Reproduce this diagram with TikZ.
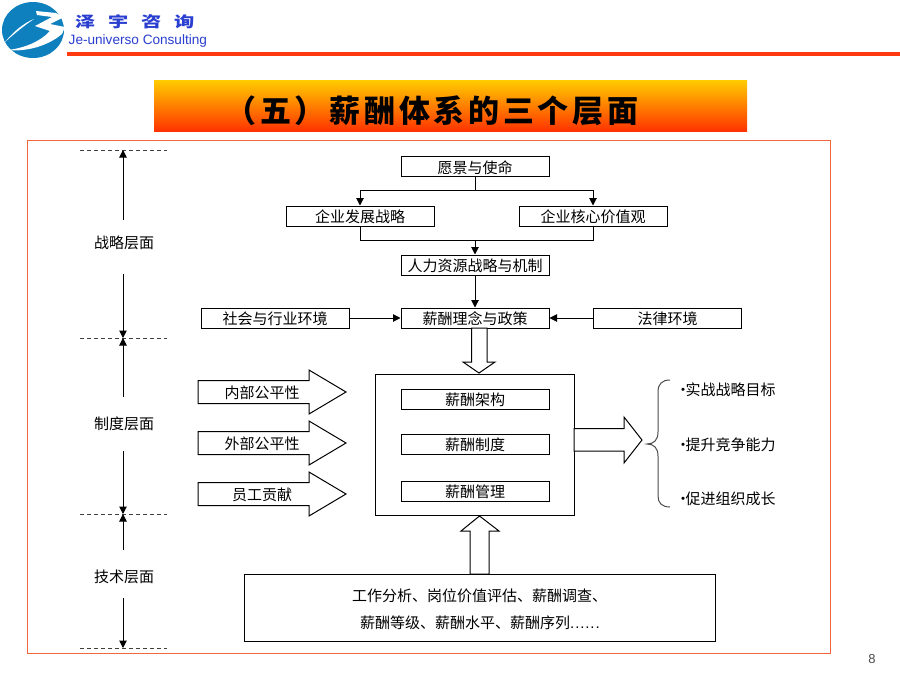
\documentclass[tikz,border=0pt]{standalone}
\usepackage{fontspec}
\setmainfont{Noto Sans CJK SC}
\newfontfamily\titlefont[LetterSpace=12]{Noto Sans CJK SC}
\newfontfamily\brandfont[LetterSpace=85,FakeStretch=1.35]{Noto Sans CJK SC}
\newfontfamily\latinfont{Liberation Sans}
\newfontfamily\dotsfont[LetterSpace=6]{Liberation Sans}
\usetikzlibrary{arrows.meta}
\definecolor{frameRed}{HTML}{F2663F}
\definecolor{lineRed}{HTML}{FF3A10}
\definecolor{brandBlue}{HTML}{2A3FD0}
\definecolor{logoBlue}{HTML}{0F80BE}
\definecolor{gradTop}{HTML}{FFCC00}
\definecolor{gradMid}{HTML}{FF8000}
\definecolor{gradBot}{HTML}{FF3300}
\tikzset{
  x=1pt,y=-1pt,
  lbl/.style={font=\fontsize{15}{15}\selectfont,inner sep=0pt,text=black,text height=13.4pt,text depth=0pt},
  flowbox/.style={draw=black,line width=1pt,minimum width=148pt,minimum height=20pt,inner sep=0pt,font=\fontsize{15}{15}\selectfont,text height=13.4pt,text depth=0pt},
  conn/.style={draw=black,line width=1pt,-{Triangle[length=7.5pt,width=7.5pt]}},
  plainconn/.style={draw=black,line width=1pt},
  level/.style={dash pattern=on 4pt off 3pt,draw=black!75,line width=0.8pt},
  blockshape/.style={draw=black,line width=1pt,fill=white,line join=miter},
}
\newcommand{\rightblock}[5]{% x0, xbase, xtip, ycenter, label
  \path[blockshape] (#1,#4-11.5) -- (#2,#4-11.5) -- (#2,#4-22) -- (#3,#4) -- (#2,#4+22) -- (#2,#4+11.5) -- (#1,#4+11.5) -- cycle;
  \node[lbl] at ({(#1+#2)/2+8.5},#4) {#5};
}
\begin{document}
\begin{tikzpicture}
\useasboundingbox (0,0) rectangle (900,675);
\fill[white] (0,0) rectangle (900,675);

% logo
\fill[logoBlue] (33,30) ellipse [x radius=31,y radius=28];
\fill[white] (5,42) .. controls (14,31) and (24,23) .. (34,19) .. controls (25,25) and (15,33) .. (5,42) -- cycle;
\fill[white] (36,11) -- (56,13) -- (64,17) -- (50,24) -- (65,27) -- (62,34) .. controls (48,46) and (26,52) .. (8,50) .. controls (24,48) and (40,42) .. (50,31) -- (35,26) -- (52,17) -- (37,15) -- cycle;
\node[inner sep=0pt,anchor=west,font=\brandfont\bfseries\fontsize{15}{15}\selectfont,text=brandBlue] (brand) at (75,22) {泽宇咨询};
\node[inner sep=0pt,anchor=west,font=\latinfont\fontsize{13.6}{13.6}\selectfont,text=brandBlue] (brandlatin) at (68.5,41) {Je-universo Consulting};
\fill[lineRed] (67,52) rectangle (900,56);

% title
\shade[top color=gradTop,bottom color=gradBot,middle color=gradMid] (154,80) rectangle (747,131);
\node[inner sep=0pt,font=\titlefont\bfseries\fontsize{31}{31}\selectfont] (title) at (432,111) {（五）薪酬体系的三个层面};

% frame
\draw[frameRed,line width=1pt] (27,140) rectangle (830,653);

% levels
\foreach \yy in {150,338,514,648} \draw[level] (80,\yy) -- (167,\yy);
\node[lbl] (l1) at (124,242) {战略层面};
\node[lbl] (l2) at (124,423) {制度层面};
\node[lbl] (l3) at (124,576) {技术层面};
\coordinate (a1) at (123,150); \coordinate (a2) at (123,338);
\coordinate (a3) at (123,338); \coordinate (a4) at (123,514);
\coordinate (a5) at (123,514); \coordinate (a6) at (123,648);
\draw[conn] (123,220) -- (a1);
\draw[conn] (123,274) -- (a2);
\draw[conn] (123,397) -- (a3);
\draw[conn] (123,451) -- (a4);
\draw[conn] (123,550) -- (a5);
\draw[conn] (123,598) -- (a6);

% top flow
\node[flowbox] (vision) at (475,166.5) {愿景与使命};
\node[flowbox] (dev) at (360,216) {企业发展战略};
\node[flowbox] (core) at (593,216) {企业核心价值观};
\node[flowbox] (hr) at (475,265) {人力资源战略与机制};
\node[flowbox] (idea) at (475,318) {薪酬理念与政策};
\node[flowbox] (soc) at (275,318) {社会与行业环境};
\node[flowbox] (law) at (667.5,318) {法律环境};
\coordinate (j1) at (475,190);
\coordinate (j2) at (475,240);
\draw[plainconn] (vision.south) -- (j1);
\draw[conn] (j1) -| (dev.north);
\draw[conn] (j1) -| (core.north);
\draw[plainconn] (dev.south) |- (j2);
\draw[plainconn] (core.south) |- (j2);
\draw[conn] (j2) -- (hr.north);
\draw[conn] (hr.south) -- (idea.north);
\draw[conn] (soc.east) -- (idea.west);
\draw[conn] (law.west) -- (idea.east);

% centre box
\node[draw=black,line width=1pt,minimum width=198.5pt,minimum height=141pt,inner sep=0pt] (centre) at (474.75,444.5) {};
\node[flowbox] (s1) at (475,399) {薪酬架构};
\node[flowbox] (s2) at (475,444) {薪酬制度};
\node[flowbox] (s3) at (475,491) {薪酬管理};

% hollow arrows
\path[blockshape] (471.7,328) -- (487,328) -- (487,362) -- (495,362) -- (479,373) -- (463,362) -- (471.7,362) -- cycle;
\path[blockshape] (470,574) -- (489,574) -- (489,531) -- (499,531) -- (479.5,516) -- (461,531) -- (470,531) -- cycle;
\path[blockshape] (574,428.5) -- (624,428.5) -- (624,417) -- (642,440) -- (624,463) -- (624,451) -- (574,451) -- cycle;

\rightblock{198}{309}{346}{392}{内部公平性}
\rightblock{198}{309}{346}{443}{外部公平性}
\rightblock{198}{309}{346}{494}{员工贡献}

% brace
\draw[black!70,line width=1pt] (670,380) .. controls (662,380) and (658,384) .. (658,392) -- (658,432) .. controls (658,440) and (654,444) .. (647,444) .. controls (654,444) and (658,448) .. (658,456) -- (658,496) .. controls (658,503) and (662,507) .. (670,507);

\node[lbl,anchor=west] (g1) at (675.5,389) {\textbullet\hspace{-5pt}实战战略目标};
\node[lbl,anchor=west] (g2) at (675.5,444) {\textbullet\hspace{-5pt}提升竞争能力};
\node[lbl,anchor=west] (g3) at (675.5,498) {\textbullet\hspace{-5pt}促进组织成长};

% bottom box
\node[draw=black,line width=1pt,minimum width=471pt,minimum height=67pt,inner sep=0pt] (tech) at (479.5,607.5) {};
\node[lbl,anchor=west] (t1) at (352,595) {工作分析、岗位价值评估、薪酬调查、};
\node[lbl,anchor=west] (t2) at (360,622) {薪酬等级、薪酬水平、薪酬序列{\dotsfont\fontsize{15}{15}\selectfont ......}};

\node[inner sep=0pt,font=\latinfont\fontsize{13}{13}\selectfont,text=black!70] (page) at (872,659) {8};
\end{tikzpicture}
\end{document}
